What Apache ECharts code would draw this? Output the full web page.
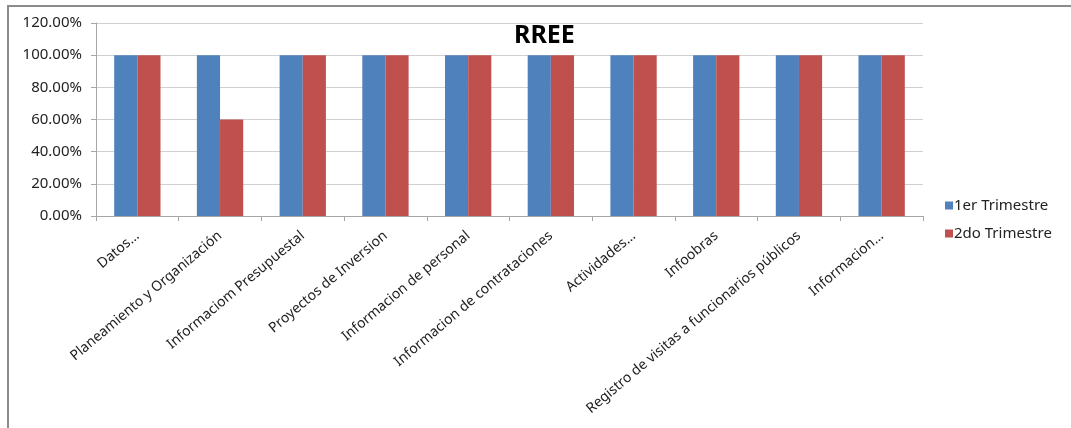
<!DOCTYPE html>
<html>
<head>
<meta charset="utf-8">
<script src="https://cdn.jsdelivr.net/npm/echarts@6/dist/echarts.min.js"></script>
<style>
html,body{margin:0;padding:0;background:#fff;}
#c{width:1071px;height:428px;}
</style>
</head>
<body>
<div id="c"></div>
<script>
const categories = [
  "Datos…",
  "Planeamiento y Organización",
  "Informaciom Presupuestal",
  "Proyectos de Inversion",
  "Informacion de personal",
  "Informacion de contrataciones",
  "Actividades…",
  "Infoobras",
  "Registro de visitas a funcionarios públicos",
  "Informacion…"
];
const seriesNames = ["1er Trimestre", "2do Trimestre"];
const trimestre1 = [1, 1, 1, 1, 1, 1, 1, 1, 1, 1];
const trimestre2 = [1, 0.6, 1, 1, 1, 1, 1, 1, 1, 1];
const chartTitle = "RREE";

const FONT = "Noto Sans";
const chart = echarts.init(document.getElementById('c'));
chart.setOption({
  animation: false,
  backgroundColor: '#ffffff',
  textStyle: { fontFamily: FONT },
  title: {
    text: chartTitle,
    left: 509, top: 18,
    textStyle: { fontFamily: FONT, fontSize: 25, fontWeight: 'bold', color: '#000' }
  },
  graphic: [{
    type: 'polyline',
    shape: { points: [[8, 428], [8, 6], [1071, 6]] },
    style: { stroke: '#8c8c8c', lineWidth: 2, fill: null },
    silent: true
  }],
  legend: {
    orient: 'vertical',
    left: 940, top: 193,
    itemWidth: 8, itemHeight: 8, itemGap: 13,
    icon: 'rect',
    textStyle: { fontFamily: FONT, fontSize: 15, color: '#222', padding: [0, 0, 0, -4] },
    data: seriesNames
  },
  grid: { left: 96, right: 148, top: 23, bottom: 212, containLabel: false, outerBoundsMode: 'none' },
  xAxis: {
    type: 'category',
    data: categories,
    axisLine: { lineStyle: { color: '#a6a6a6', width: 1 } },
    axisTick: { show: true, alignWithLabel: false, length: 5, lineStyle: { color: '#a6a6a6' } },
    axisLabel: { rotate: 40, interval: 0, margin: 18, fontSize: 14, color: '#222', fontFamily: FONT }
  },
  yAxis: {
    type: 'value',
    min: 0, max: 1.2, interval: 0.2,
    axisLine: { show: true, lineStyle: { color: '#a6a6a6' } },
    axisTick: { show: true, length: 5, lineStyle: { color: '#a6a6a6' } },
    splitLine: { lineStyle: { color: '#d0d0d0', width: 1 } },
    axisLabel: {
      fontSize: 15, color: '#222', margin: 14, fontFamily: FONT,
      formatter: v => (v * 100).toFixed(2) + '%'
    }
  },
  series: [
    { name: seriesNames[0], type: 'bar', data: trimestre1, barGap: '0%', barCategoryGap: '44%',
      itemStyle: { color: '#4f81bd' } },
    { name: seriesNames[1], type: 'bar', data: trimestre2, barGap: '0%', barCategoryGap: '44%',
      itemStyle: { color: '#c0504d' } }
  ]
});
</script>
</body>
</html>
